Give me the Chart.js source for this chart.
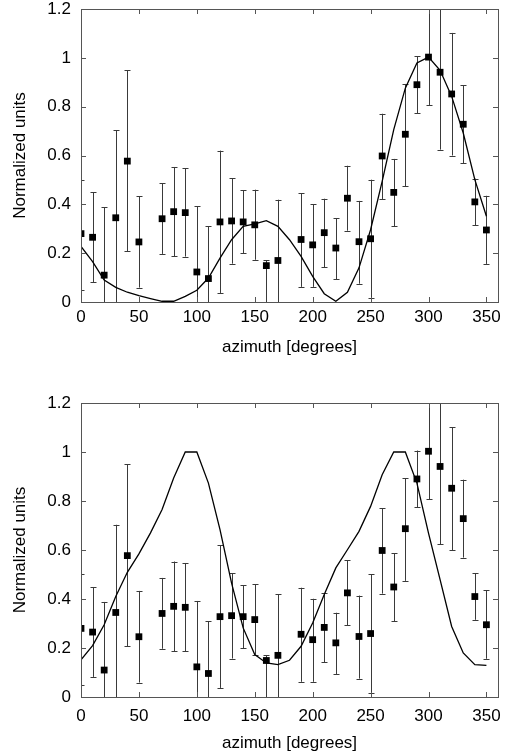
<!DOCTYPE html>
<html>
<head>
<meta charset="utf-8">
<script src="https://cdn.jsdelivr.net/npm/chart.js@4.4.0/dist/chart.umd.min.js"></script>
<style>
  html, body { margin: 0; padding: 0; background: #fff; }
  #wrapTop { position: absolute; left: 0; top: 0; width: 508px; height: 370px; }
  #wrapBottom { position: absolute; left: 0; top: 370px; width: 508px; height: 386px; }
</style>
</head>
<body>
<div id="wrapTop"><canvas id="chartTop"></canvas></div>
<div id="wrapBottom"><canvas id="chartBottom"></canvas></div>
<script>
// measured points (same in both panels)
const azimuth = [0, 10, 20, 30, 40, 50, 70, 80, 90, 100, 110, 120, 130, 140, 150, 160, 170,
  190, 200, 210, 220, 230, 240, 250, 260, 270, 280, 290, 300, 310, 320, 330, 340, 350];
const measured = [0.28, 0.265, 0.11, 0.345, 0.577, 0.246, 0.341, 0.37, 0.366, 0.123, 0.096, 0.328, 0.332, 0.328, 0.316, 0.149, 0.17,
  0.256, 0.234, 0.284, 0.221, 0.425, 0.247, 0.259, 0.598, 0.449, 0.687, 0.89, 1.003, 0.941, 0.852, 0.728, 0.41, 0.295];
const errLow = [0.05, 0.082, 0, 0, 0.207, 0.059, 0.197, 0.187, 0.186, 0, 0, 0.037, 0.157, 0.2, 0.173, 0, 0,
  0.062, 0.062, 0.142, 0.094, 0.292, 0.075, 0.016, 0.422, 0.31, 0.474, 0.774, 0.807, 0.624, 0.6, 0.569, 0.315, 0.156];
const errHigh = [0.5, 0.449, 0.388, 0.703, 0.949, 0.433, 0.486, 0.553, 0.547, 0.392, 0.31, 0.62, 0.506, 0.457, 0.46, 0.17, 0.419,
  0.446, 0.401, 0.423, 0.344, 0.558, 0.414, 0.501, 0.771, 0.586, 0.893, 1.006, 1.25, 1.25, 1.102, 0.887, 0.505, 0.435];

// model curves
const modelAzimuth = [0, 10, 20, 30, 40, 50, 60, 70, 80, 90, 100, 110, 120, 130, 140, 150, 160, 170,
  180, 190, 200, 210, 220, 230, 240, 250, 260, 270, 280, 290, 300, 310, 320, 330, 340, 350];
const modelTop = [0.228, 0.165, 0.09, 0.06, 0.04, 0.026, 0.014, 0.003, 0.003, 0.023, 0.048, 0.098, 0.18, 0.255, 0.31, 0.32, 0.333, 0.31,
  0.255, 0.187, 0.105, 0.034, 0.003, 0.04, 0.14, 0.296, 0.494, 0.706, 0.876, 0.979, 1.003, 0.949, 0.842, 0.692, 0.501, 0.351];
const modelBottom = [0.152, 0.21, 0.295, 0.41, 0.509, 0.584, 0.67, 0.765, 0.894, 1.0, 1.0, 0.873, 0.683, 0.465, 0.282, 0.173, 0.139, 0.132,
  0.15, 0.207, 0.302, 0.418, 0.527, 0.601, 0.676, 0.778, 0.907, 1.0, 1.0, 0.873, 0.669, 0.479, 0.288, 0.18, 0.132, 0.129];

// axis ticks
const xTicks = [0, 50, 100, 150, 200, 250, 300, 350];
const xTickLabels = ['0', '50', '100', '150', '200', '250', '300', '350'];
const yTicks = [0, 0.2, 0.4, 0.6, 0.8, 1.0, 1.2];
const yTickLabels = ['0', '0.2', '0.4', '0.6', '0.8', '1', '1.2'];

const FONT = 'Liberation Sans, Arial, Helvetica, sans-serif';

// error bars + gnuplot style frame with inward ticks
const gnuplotFrame = {
  id: 'gnuplotFrame',
  beforeDatasetsDraw(chart) {
    const { ctx, chartArea: a, scales: { x, y } } = chart;
    ctx.save();
    ctx.beginPath();
    ctx.rect(a.left, a.top, a.right - a.left, a.bottom - a.top);
    ctx.clip();
    ctx.strokeStyle = '#3a3a3a';
    ctx.lineWidth = 1;
    azimuth.forEach((az, i) => {
      const px = Math.round(x.getPixelForValue(az)) + 0.5;
      const lo = y.getPixelForValue(errLow[i]);
      const hi = y.getPixelForValue(errHigh[i]);
      ctx.beginPath();
      ctx.moveTo(px, lo);
      ctx.lineTo(px, hi);
      ctx.moveTo(px - 3, Math.round(lo) + 0.5);
      ctx.lineTo(px + 3, Math.round(lo) + 0.5);
      ctx.moveTo(px - 3, Math.round(hi) + 0.5);
      ctx.lineTo(px + 3, Math.round(hi) + 0.5);
      ctx.stroke();
    });
    ctx.restore();
  },
  afterDraw(chart) {
    const { ctx, chartArea: a, scales: { x, y } } = chart;
    ctx.save();
    ctx.strokeStyle = '#555';
    ctx.lineWidth = 1;
    ctx.strokeRect(Math.round(a.left) + 0.5, Math.round(a.top) + 0.5,
      Math.round(a.right - a.left), Math.round(a.bottom - a.top));
    ctx.beginPath();
    xTicks.forEach(v => {
      const px = Math.round(x.getPixelForValue(v)) + 0.5;
      ctx.moveTo(px, a.bottom); ctx.lineTo(px, a.bottom - 5);
      ctx.moveTo(px, a.top); ctx.lineTo(px, a.top + 5);
    });
    yTicks.forEach(v => {
      const py = Math.round(y.getPixelForValue(v)) + 0.5;
      ctx.moveTo(a.left, py); ctx.lineTo(a.left + 5, py);
      ctx.moveTo(a.right, py); ctx.lineTo(a.right - 5, py);
    });
    ctx.stroke();
    ctx.restore();
  }
};

function makeChart(canvasId, model, cfg) {
  const ctx = document.getElementById(canvasId).getContext('2d');
  return new Chart(ctx, {
    type: 'scatter',
    data: {
      datasets: [{
        type: 'line',
        data: modelAzimuth.map((az, i) => ({ x: az, y: model[i] })),
        borderColor: '#000',
        borderWidth: 1.3,
        pointRadius: 0,
        tension: 0,
        fill: false
      }, {
        data: azimuth.map((az, i) => ({ x: az, y: measured[i] })),
        pointStyle: 'rect',
        pointRadius: 4.8,
        backgroundColor: '#000',
        borderColor: '#000',
        borderWidth: 0
      }]
    },
    options: {
      responsive: true,
      maintainAspectRatio: false,
      animation: false,
      layout: { padding: { left: 0, right: 10, top: cfg.top, bottom: 0 } },
      plugins: { legend: { display: false }, tooltip: { enabled: false } },
      scales: {
        x: {
          type: 'linear',
          min: 0,
          max: 360,
          grid: { display: false, drawTicks: false },
          border: { display: false },
          afterBuildTicks: s => { s.ticks = xTicks.map(v => ({ value: v })); },
          afterFit: s => { s.height = cfg.xHeight; s.paddingLeft = 0; s.paddingRight = 0; },
          ticks: {
            color: '#000',
            font: { family: FONT, size: 17 },
            padding: cfg.tickPad,
            maxRotation: 0,
            autoSkip: false,
            callback: (v, i) => xTickLabels[i]
          },
          title: {
            display: true,
            text: 'azimuth [degrees]',
            color: '#000',
            font: { family: FONT, size: 17 },
            padding: { top: 0, bottom: cfg.titlePad }
          }
        },
        y: {
          min: 0,
          max: 1.2,
          grid: { display: false, drawTicks: false },
          border: { display: false },
          afterBuildTicks: s => { s.ticks = yTicks.map(v => ({ value: v })); },
          afterFit: s => { s.width = 81; s.paddingTop = 0; s.paddingBottom = 0; },
          ticks: {
            color: '#000',
            font: { family: FONT, size: 17 },
            padding: 10,
            callback: (v, i) => yTickLabels[i]
          },
          title: {
            display: true,
            text: 'Normalized units',
            color: '#000',
            font: { family: FONT, size: 17 },
            padding: { top: 10, bottom: 0 }
          }
        }
      }
    },
    plugins: [gnuplotFrame]
  });
}

makeChart('chartTop', modelTop, { top: 9, xHeight: 68, tickPad: 5, titlePad: 12 });
makeChart('chartBottom', modelBottom, { top: 33, xHeight: 59, tickPad: 9, titlePad: 2 });
</script>
</body>
</html>
